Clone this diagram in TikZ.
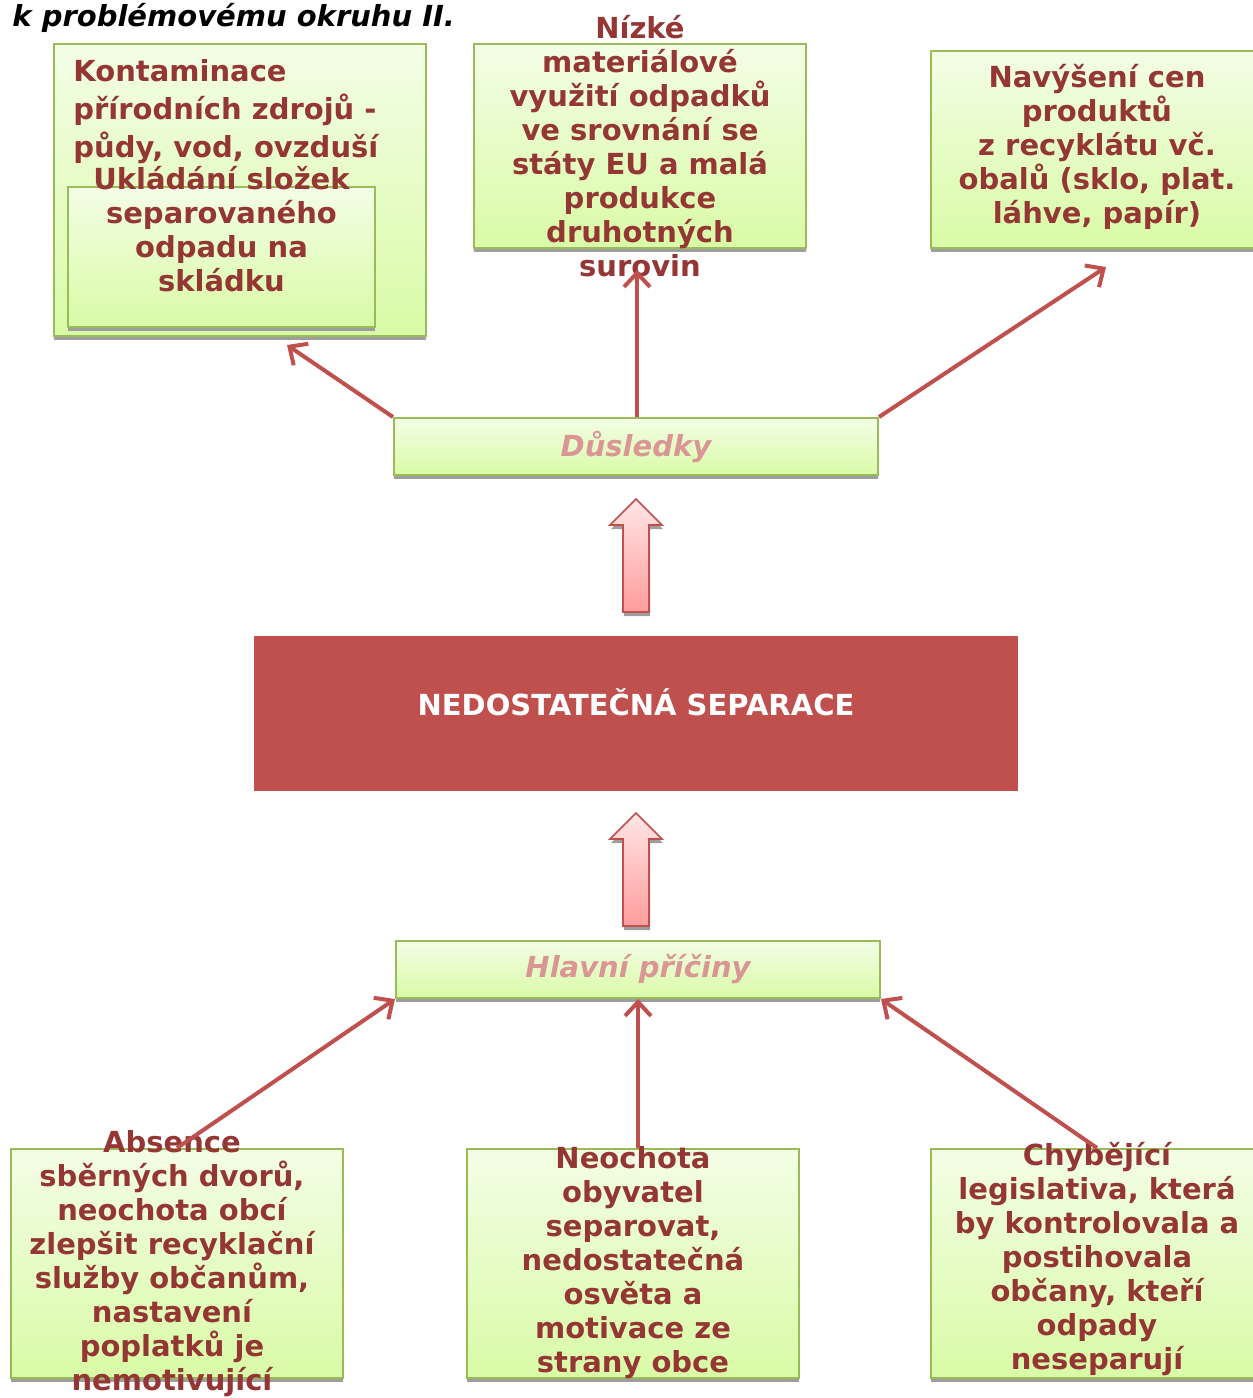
\documentclass[tikz,border=0pt]{standalone}
\usepackage{fontspec}
\setmainfont{DejaVu Sans}
\usepackage{xcolor}
\definecolor{txtred}{HTML}{943634}
\definecolor{arrred}{HTML}{C0504D}
\definecolor{boxedge}{HTML}{9BBB59}
\definecolor{boxtop}{HTML}{F3FDE6}
\definecolor{boxbot}{HTML}{D9FBA6}
\definecolor{headpink}{HTML}{D99694}
\definecolor{arrtop}{HTML}{FFE6E6}
\definecolor{arrbot}{HTML}{FF9C9C}
\usetikzlibrary{positioning,arrows.meta,shadows}
\newcommand{\bodyfont}{\bfseries\fontsize{14.5}{17}\selectfont}

\begin{document}
\begin{tikzpicture}[x=0.5pt, y=-0.5pt,
                   cbox/.style={draw=boxedge, line width=1pt, top color=boxtop, bottom color=boxbot,
                                inner sep=0pt, minimum width=166pt,
                                drop shadow={shadow xshift=0pt, shadow yshift=-2pt, fill=black!38, opacity=1}},
                   btext/.style={text=txtred, font=\bodyfont, align=center, inner sep=0pt},
                   headbar/.style={cbox, minimum width=242pt, minimum height=28.5pt,
                                   font=\bodyfont\itshape, text=headpink},
                   link/.style={draw=arrred, line width=2pt,
                                -{Straight Barb[length=7pt, width=13pt, line width=2pt]}},
                   blockup/.style={draw=arrred, line width=0.8pt, top color=arrtop, bottom color=arrbot,
                                   drop shadow={shadow xshift=0.5pt, shadow yshift=-2pt, fill=black!38, opacity=1}}]
    \useasboundingbox (0,0) rectangle (1253,1398);

    \node[anchor=west, inner sep=0pt, font=\bodyfont\itshape] (title) at (12,18) {k problémovému okruhu II.};

    % dusledky
    \node[cbox, minimum width=186pt, minimum height=146pt] (kont) at (240,190) {};
    \node[btext, align=left, anchor=north west, font=\bfseries\fontsize{14.5}{19}\selectfont]
        (kontt) at (73,59) {Kontaminace\\přírodních zdrojů -\\půdy, vod, ovzduší};
    \node[cbox, minimum width=153.5pt, minimum height=70pt] (skl) at (221.5,257) {};
    \node[btext] (sklt) at (221.5,229) {Ukládání složek\\separovaného\\odpadu na\\skládku};
    \node[cbox, minimum height=102pt] (niz) at (640,146) {};
    \node[btext] (nizt) at (640,146) {Nízké\\materiálové\\využití odpadků\\ve srovnání se\\státy EU a malá\\produkce\\druhotných\\surovin};
    \node[cbox, minimum height=98.5pt] (nav) at (1097,149.5) {};
    \node[btext] (navt) at (1097,147) {Navýšení cen\\produktů\\z recyklátu vč.\\obalů (sklo, plat.\\láhve, papír)};

    \node[headbar] (dus) at (636,446.5) {Důsledky};

    \coordinate (tip1) at (636,499);
    \draw[blockup] (tip1) -- ++(26,26) -- ++(-13,0) -- ++(0,87) -- ++(-26,0) -- ++(0,-87) -- ++(-13,0) -- cycle;

    \node[fill=arrred, inner sep=0pt, minimum width=382pt, minimum height=77.5pt] (sep) at (636,713.5) {};
    \node[inner sep=0pt, text=white, font=\bodyfont] (sept) at (636,702) {NEDOSTATEČNÁ SEPARACE};

    \coordinate (tip2) at (636,813);
    \draw[blockup] (tip2) -- ++(26,26) -- ++(-13,0) -- ++(0,87) -- ++(-26,0) -- ++(0,-87) -- ++(-13,0) -- cycle;

    % priciny
    \node[headbar] (hlav) at (638,969.5) {Hlavní příčiny};

    \node[cbox, minimum height=114.5pt] (abs) at (177,1263.5) {};
    \node[btext] (abst) at (172,1264) {Absence\\sběrných dvorů,\\neochota obcí\\zlepšit recyklační\\služby občanům,\\nastavení\\poplatků je\\nemotivující};
    \node[cbox, minimum height=114.5pt] (neo) at (633,1263.5) {};
    \node[btext] (neot) at (633,1263) {Neochota\\obyvatel\\separovat,\\nedostatečná\\osvěta a\\motivace ze\\strany obce};
    \node[cbox, minimum height=114.5pt] (chyb) at (1097,1263.5) {};
    \node[btext] (chybt) at (1097,1259) {Chybějící\\legislativa, která\\by kontrolovala a\\postihovala\\občany, kteří\\odpady\\neseparují};

    \coordinate (kontend) at (287,345);
    \coordinate (nizend) at (637,270);
    \coordinate (navend) at (1106,267);
    \draw[link] (dus.north west) -- (kontend);
    \draw[link] (dus.north -| nizend) -- (nizend);
    \draw[link] (dus.north east) -- (navend);

    \draw[link] (abs.north) -- (hlav.south west);
    \draw[link] (hlav.south |- neo.north) -- (hlav.south);
    \draw[link] (chyb.north) -- (hlav.south east);
\end{tikzpicture}
\end{document}
